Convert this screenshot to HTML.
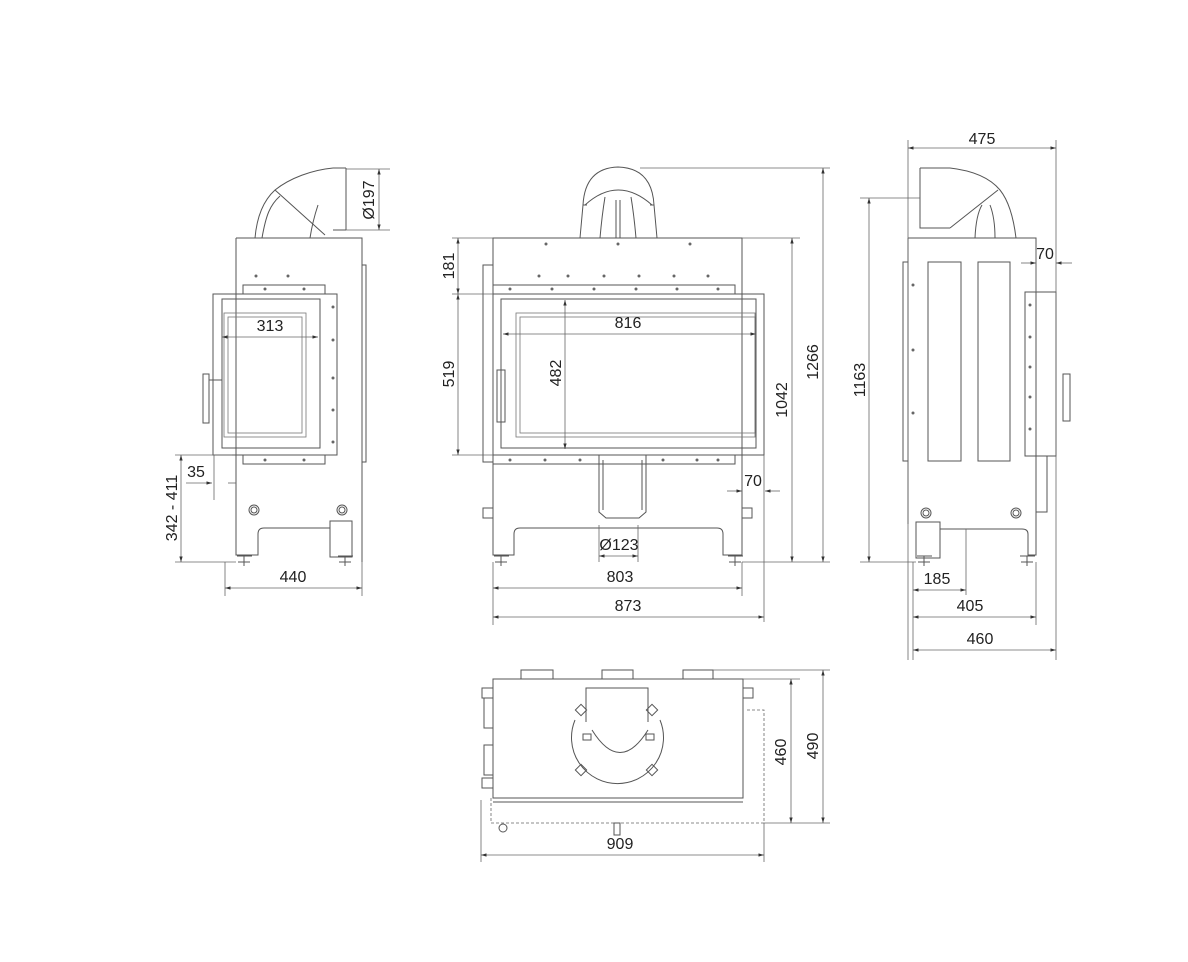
<!DOCTYPE html>
<html><head><meta charset="utf-8"><style>
html,body{margin:0;padding:0;background:#fff}
svg{display:block}
text{font-family:"Liberation Sans",sans-serif;font-size:16px;fill:#222}
.l{stroke:#555;stroke-width:1;fill:none}
.t{stroke:#777;stroke-width:.8;fill:none}
.d{stroke:#666;stroke-width:.8;fill:none}
</style></head><body>
<svg width="1188" height="962" viewBox="0 0 1188 962" xmlns="http://www.w3.org/2000/svg">
<defs>
<marker id="a" viewBox="0 0 10 10" refX="10" refY="5" markerWidth="7" markerHeight="7" orient="auto-start-reverse"><path d="M0,2 L10,5 L0,8 z" fill="#333"/></marker>
</defs>

<!-- LEFT VIEW -->
<g>
<path class="l" d="M236,238 H362 V562"/>
<path class="l" d="M236,238 V528 M236,528 V555 H258 V534 Q258,528 264,528 H330"/>
<rect class="l" x="330" y="521" width="22" height="36"/>
<rect class="l" x="362" y="265" width="4" height="197"/>
<rect class="l" x="243" y="285" width="82" height="9"/>
<rect class="l" x="243" y="455" width="82" height="9"/>
<rect class="l" x="213" y="294" width="124" height="161"/>
<rect class="l" x="222" y="299" width="98" height="149"/>
<rect class="t" x="224" y="313" width="82" height="124"/>
<rect class="t" x="228" y="317" width="74" height="116"/>
<rect class="l" x="203" y="374" width="6" height="49"/>
<line class="l" x1="209" y1="380" x2="222" y2="380"/>
<path class="l" d="M255,238 C257,215 264,200 275,190 C290,178 312,170 333,168 M346,168 V230 M333,168 H346 M333,230 H346 M275,190 L325,235 M262,238 C266,215 270,205 280,196 M310,238 C312,225 315,214 318,205"/>
<circle class="l" cx="254" cy="510" r="5"/><circle class="l" cx="254" cy="510" r="3"/>
<circle class="l" cx="342" cy="510" r="5"/><circle class="l" cx="342" cy="510" r="3"/>
<path class="l" d="M237,556 H252 M244,556 V566 M238,562 H250 M338,556 H353 M345,556 V566 M339,562 H351"/>
<g fill="#666"><circle cx="256" cy="276" r="1.5"/><circle cx="288" cy="276" r="1.5"/><circle cx="265" cy="289" r="1.5"/><circle cx="304" cy="289" r="1.5"/><circle cx="265" cy="460" r="1.5"/><circle cx="304" cy="460" r="1.5"/><circle cx="333" cy="340" r="1.5"/><circle cx="333" cy="378" r="1.5"/><circle cx="333" cy="410" r="1.5"/><circle cx="333" cy="442" r="1.5"/><circle cx="333" cy="307" r="1.5"/></g>
<line class="d" x1="346" y1="169" x2="390" y2="169"/><line class="d" x1="346" y1="230" x2="390" y2="230"/>
<line class="d" x1="379" y1="169" x2="379" y2="230" marker-start="url(#a)" marker-end="url(#a)"/>
<text transform="translate(374,200) rotate(-90)" text-anchor="middle">Ø197</text>
<line class="d" x1="222" y1="337" x2="318" y2="337" marker-start="url(#a)" marker-end="url(#a)"/>
<text x="270" y="331" text-anchor="middle">313</text>
<line class="d" x1="175" y1="455" x2="232" y2="455"/><line class="d" x1="175" y1="562" x2="236" y2="562"/>
<line class="d" x1="181" y1="455" x2="181" y2="562" marker-start="url(#a)" marker-end="url(#a)"/>
<text transform="translate(177,508) rotate(-90)" text-anchor="middle">342 - 411</text>
<line class="d" x1="214" y1="455" x2="214" y2="500"/>
<line class="d" x1="186" y1="483" x2="212" y2="483" marker-end="url(#a)"/>
<line class="d" x1="236" y1="483" x2="228" y2="483"/>
<text x="196" y="477" text-anchor="middle">35</text>
<line class="d" x1="225" y1="562" x2="225" y2="596"/><line class="d" x1="362" y1="562" x2="362" y2="596"/>
<line class="d" x1="225" y1="588" x2="362" y2="588" marker-start="url(#a)" marker-end="url(#a)"/>
<text x="293" y="582" text-anchor="middle">440</text>
</g>

<!-- CENTER VIEW -->
<g>
<path class="l" d="M493,238 H742 V555 H723 V534 Q723,528 717,528 H520 Q514,528 514,534 V555 H493 Z"/>
<rect class="l" x="483" y="265" width="10" height="197"/>
<rect class="l" x="483" y="508" width="10" height="10"/><rect class="l" x="742" y="508" width="10" height="10"/>
<rect class="l" x="493" y="285" width="242" height="9"/>
<rect class="l" x="493" y="455" width="242" height="9"/>
<rect class="l" x="493" y="294" width="271" height="161"/>
<rect class="l" x="501" y="299" width="255" height="149"/>
<rect class="t" x="516" y="313" width="239" height="124"/>
<rect class="t" x="520" y="317" width="235" height="116"/>
<rect class="l" x="497" y="370" width="8" height="52"/>
<path class="l" d="M599,455 V512 L606,518 H639 L646,512 V455 M603,460 V510 M642,460 V510"/>
<path class="l" d="M580,238 L583,205 Q585,168 618,167 Q652,168 654,205 L657,238 M585,205 Q618,175 652,205 M583,205 H587 M650,205 H654 M600,238 Q602,215 605,197 M636,238 Q634,215 631,197 M616,238 V200 M620,238 V200"/>
<path class="l" d="M494,556 H509 M501,556 V566 M495,562 H507 M728,556 H743 M735,556 V566 M729,562 H741"/>
<g fill="#666"><circle cx="539" cy="276" r="1.5"/><circle cx="568" cy="276" r="1.5"/><circle cx="604" cy="276" r="1.5"/><circle cx="639" cy="276" r="1.5"/><circle cx="674" cy="276" r="1.5"/><circle cx="708" cy="276" r="1.5"/>
<circle cx="510" cy="289" r="1.5"/><circle cx="552" cy="289" r="1.5"/><circle cx="594" cy="289" r="1.5"/><circle cx="636" cy="289" r="1.5"/><circle cx="677" cy="289" r="1.5"/><circle cx="718" cy="289" r="1.5"/>
<circle cx="510" cy="460" r="1.5"/><circle cx="545" cy="460" r="1.5"/><circle cx="580" cy="460" r="1.5"/><circle cx="663" cy="460" r="1.5"/><circle cx="697" cy="460" r="1.5"/><circle cx="718" cy="460" r="1.5"/>
<circle cx="546" cy="244" r="1.5"/><circle cx="618" cy="244" r="1.5"/><circle cx="690" cy="244" r="1.5"/></g>
<line class="d" x1="452" y1="238" x2="493" y2="238"/><line class="d" x1="452" y1="294" x2="493" y2="294"/><line class="d" x1="452" y1="455" x2="493" y2="455"/>
<line class="d" x1="458" y1="238" x2="458" y2="294" marker-start="url(#a)" marker-end="url(#a)"/>
<text transform="translate(454,266) rotate(-90)" text-anchor="middle">181</text>
<line class="d" x1="458" y1="294" x2="458" y2="455" marker-start="url(#a)" marker-end="url(#a)"/>
<text transform="translate(454,374) rotate(-90)" text-anchor="middle">519</text>
<line class="d" x1="565" y1="300" x2="565" y2="449" marker-start="url(#a)" marker-end="url(#a)"/>
<text transform="translate(561,373) rotate(-90)" text-anchor="middle">482</text>
<line class="d" x1="503" y1="334" x2="756" y2="334" marker-start="url(#a)" marker-end="url(#a)"/>
<text x="628" y="328" text-anchor="middle">816</text>
<line class="d" x1="727" y1="491" x2="742" y2="491" marker-end="url(#a)"/>
<line class="d" x1="780" y1="491" x2="765" y2="491" marker-end="url(#a)"/>
<line class="d" x1="764" y1="455" x2="764" y2="622"/>
<text x="753" y="486" text-anchor="middle">70</text>
<line class="d" x1="599" y1="525" x2="599" y2="562"/><line class="d" x1="638" y1="525" x2="638" y2="562"/>
<line class="d" x1="599" y1="556" x2="638" y2="556" marker-start="url(#a)" marker-end="url(#a)"/>
<text x="619" y="550" text-anchor="middle">Ø123</text>
<line class="d" x1="493" y1="562" x2="493" y2="625"/><line class="d" x1="742" y1="562" x2="742" y2="596"/>
<line class="d" x1="493" y1="588" x2="742" y2="588" marker-start="url(#a)" marker-end="url(#a)"/>
<text x="620" y="582" text-anchor="middle">803</text>
<line class="d" x1="493" y1="617" x2="764" y2="617" marker-start="url(#a)" marker-end="url(#a)"/>
<text x="628" y="611" text-anchor="middle">873</text>
<line class="d" x1="640" y1="168" x2="830" y2="168"/><line class="d" x1="742" y1="238" x2="800" y2="238"/><line class="d" x1="742" y1="562" x2="830" y2="562"/>
<line class="d" x1="792" y1="238" x2="792" y2="562" marker-start="url(#a)" marker-end="url(#a)"/>
<text transform="translate(787,400) rotate(-90)" text-anchor="middle">1042</text>
<line class="d" x1="823" y1="168" x2="823" y2="562" marker-start="url(#a)" marker-end="url(#a)"/>
<text transform="translate(818,362) rotate(-90)" text-anchor="middle">1266</text>
</g>

<!-- RIGHT VIEW -->
<g>
<path class="l" d="M908,238 H1036 V555 H1028 V534 Q1028,529 1022,529 H940 M908,238 V524"/>
<rect class="l" x="916" y="522" width="24" height="36"/>
<rect class="l" x="903" y="262" width="5" height="199"/>
<rect class="l" x="928" y="262" width="33" height="199"/>
<rect class="l" x="978" y="262" width="32" height="199"/>
<rect class="l" x="1025" y="292" width="31" height="164"/>
<rect class="l" x="1063" y="374" width="7" height="47"/>
<rect class="l" x="1036" y="456" width="11" height="56"/>
<path class="l" d="M920,168 H950 Q985,172 1000,190 Q1012,205 1016,238 M920,168 V228 H950 M950,228 L998,190 M975,238 Q976,215 982,205 M995,238 Q995,218 990,205"/>
<circle class="l" cx="926" cy="513" r="5"/><circle class="l" cx="926" cy="513" r="3"/>
<circle class="l" cx="1016" cy="513" r="5"/><circle class="l" cx="1016" cy="513" r="3"/>
<path class="l" d="M917,556 H932 M924,556 V566 M918,562 H930 M1020,556 H1035 M1027,556 V566 M1021,562 H1033"/>
<g fill="#666"><circle cx="1030" cy="305" r="1.5"/><circle cx="1030" cy="337" r="1.5"/><circle cx="1030" cy="367" r="1.5"/><circle cx="1030" cy="397" r="1.5"/><circle cx="1030" cy="429" r="1.5"/><circle cx="913" cy="285" r="1.5"/><circle cx="913" cy="350" r="1.5"/><circle cx="913" cy="413" r="1.5"/></g>
<line class="d" x1="908" y1="140" x2="908" y2="660"/><line class="d" x1="1056" y1="140" x2="1056" y2="660"/>
<line class="d" x1="908" y1="148" x2="1056" y2="148" marker-start="url(#a)" marker-end="url(#a)"/>
<text x="982" y="144" text-anchor="middle">475</text>
<line class="d" x1="1021" y1="263" x2="1036" y2="263" marker-end="url(#a)"/>
<line class="d" x1="1072" y1="263" x2="1056" y2="263" marker-end="url(#a)"/>
<line class="d" x1="1036" y1="250" x2="1036" y2="292"/>
<text x="1045" y="259" text-anchor="middle">70</text>
<line class="d" x1="860" y1="198" x2="920" y2="198"/><line class="d" x1="860" y1="562" x2="916" y2="562"/>
<line class="d" x1="869" y1="198" x2="869" y2="562" marker-start="url(#a)" marker-end="url(#a)"/>
<text transform="translate(865,380) rotate(-90)" text-anchor="middle">1163</text>
<line class="d" x1="913" y1="562" x2="913" y2="660"/><line class="d" x1="966" y1="529" x2="966" y2="595"/><line class="d" x1="1036" y1="562" x2="1036" y2="625"/>
<line class="d" x1="913" y1="590" x2="966" y2="590" marker-start="url(#a)" marker-end="url(#a)"/>
<text x="937" y="584" text-anchor="middle">185</text>
<line class="d" x1="913" y1="617" x2="1036" y2="617" marker-start="url(#a)" marker-end="url(#a)"/>
<text x="970" y="611" text-anchor="middle">405</text>
<line class="d" x1="913" y1="650" x2="1056" y2="650" marker-start="url(#a)" marker-end="url(#a)"/>
<text x="980" y="644" text-anchor="middle">460</text>
</g>

<!-- BOTTOM VIEW -->
<g>
<rect class="l" x="493" y="679" width="250" height="119"/>
<rect class="l" x="521" y="670" width="32" height="9"/>
<rect class="l" x="602" y="670" width="31" height="9"/>
<rect class="l" x="683" y="670" width="30" height="9"/>
<rect class="l" x="482" y="688" width="11" height="10"/>
<rect class="l" x="484" y="698" width="9" height="30"/>
<rect class="l" x="484" y="745" width="9" height="30"/>
<rect class="l" x="482" y="778" width="11" height="10"/>
<rect class="l" x="743" y="688" width="10" height="10"/>
<path class="l" d="M586,722 V688 H648 V722 M592,730 Q620,775 648,730"/>
<path class="l" d="M575,720 A46,46 0 1,0 660,720"/>
<g class="l">
<rect x="577" y="706" width="8" height="8" transform="rotate(45 581 710)"/>
<rect x="648" y="706" width="8" height="8" transform="rotate(45 652 710)"/>
<rect x="577" y="766" width="8" height="8" transform="rotate(45 581 770)"/>
<rect x="648" y="766" width="8" height="8" transform="rotate(45 652 770)"/>
</g>
<rect class="l" x="583" y="734" width="8" height="6"/><rect class="l" x="646" y="734" width="8" height="6"/>
<path class="d" stroke-dasharray="3,2" d="M491,798 V823 H764 V710 H745"/>
<path class="l" d="M493,802 H743"/>
<circle class="l" cx="503" cy="828" r="4"/>
<rect class="l" x="614" y="823" width="6" height="12"/>
<line class="d" x1="481" y1="800" x2="481" y2="862"/><line class="d" x1="764" y1="823" x2="764" y2="862"/>
<line class="d" x1="481" y1="855" x2="764" y2="855" marker-start="url(#a)" marker-end="url(#a)"/>
<text x="620" y="849" text-anchor="middle">909</text>
<line class="d" x1="713" y1="670" x2="830" y2="670"/><line class="d" x1="743" y1="679" x2="800" y2="679"/><line class="d" x1="764" y1="823" x2="830" y2="823"/>
<line class="d" x1="791" y1="679" x2="791" y2="823" marker-start="url(#a)" marker-end="url(#a)"/>
<text transform="translate(786,752) rotate(-90)" text-anchor="middle">460</text>
<line class="d" x1="823" y1="670" x2="823" y2="823" marker-start="url(#a)" marker-end="url(#a)"/>
<text transform="translate(818,746) rotate(-90)" text-anchor="middle">490</text>
</g>
</svg>
</body></html>
